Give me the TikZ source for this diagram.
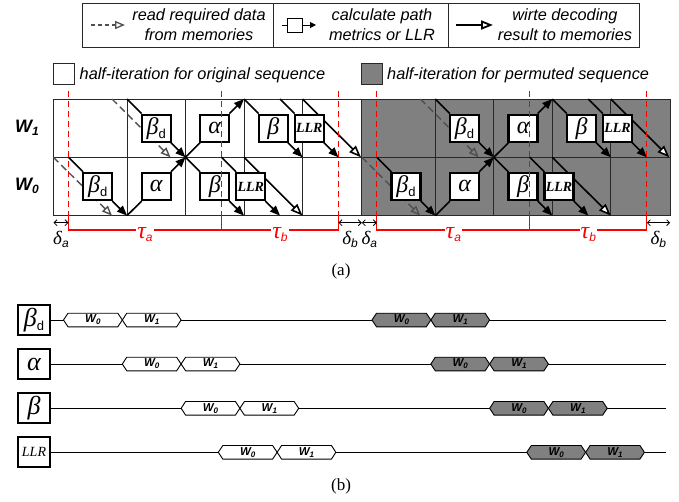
\documentclass[tikz,border=0pt]{standalone}
\usepackage{fontspec}
\setmainfont{Liberation Sans}
\newfontfamily\tnr{Liberation Serif}
\usetikzlibrary{arrows.meta}
\definecolor{hgray}{RGB}{128,128,128}
\definecolor{rdgray}{RGB}{80,80,80}
\definecolor{gline}{RGB}{40,40,40}
\pgfdeclarelayer{bg}
\pgfdeclarelayer{fg}
\pgfsetlayers{bg,main,fg}
\newcommand{\mybd}[1]{{\fontsize{#1}{#1}\selectfont\tnr\itshape β}\raisebox{-4pt}{\fontsize{13}{13}\selectfont d}}
\newcommand{\myal}[1]{{\fontsize{#1}{#1}\selectfont\tnr\itshape α}}
\newcommand{\mybe}[1]{{\fontsize{#1}{#1}\selectfont\tnr\itshape β}}
\newcommand{\myllr}{{\fontsize{14}{14}\selectfont\tnr\bfseries\itshape LLR}}
\newcommand{\myllrb}{{\fontsize{14}{14}\selectfont\tnr\itshape LLR}}
\newcommand{\myW}[1]{{\fontsize{18}{18}\selectfont\bfseries\itshape W\raisebox{-3pt}{\fontsize{12}{12}\selectfont #1}}}
\newcommand{\mywl}[1]{{\fontsize{11.5}{11.5}\selectfont\bfseries\itshape W\raisebox{-2pt}{\fontsize{8}{8}\selectfont #1}}}
\newcommand{\mydl}[1]{{\fontsize{19}{19}\selectfont\tnr\itshape δ}\raisebox{-3pt}{\fontsize{12}{12}\selectfont\itshape #1}}
\newcommand{\mytau}[1]{{\fontsize{24}{24}\selectfont\tnr\itshape τ}\raisebox{-3pt}{\fontsize{12}{12}\selectfont\itshape #1}}
\newcommand{\myhex}[5]{%
  \draw[hexline,fill=#3] (#1,#2) -- ++(4.5,6.8) -- ++(49.8,0) -- ++(4.5,-6.8) -- ++(-4.5,-6.8) -- ++(-49.8,0) -- cycle;
  \node[inner sep=0pt] (#5) at ({#1+29.4},#2) {\mywl{#4}};}
\tikzset{
  gridline/.style={draw=gline, line width=0.9pt},
  cline/.style={line width=1.6pt},
  calc/.style={line width=1.6pt, -{Triangle[length=10pt,width=8pt]}},
  wrt/.style={line width=1.6pt, -{Triangle[length=12pt,width=9pt,fill=white]}},
  rd/.style={draw=rdgray, line width=1.4pt, dash pattern=on 7pt off 4pt, -{Triangle[open,length=10pt,width=8pt]}},
  pbox/.style={draw, line width=2.2pt, fill=white, minimum width=29pt, minimum height=27pt, inner sep=0pt},
  pboxb/.style={draw, line width=2.2pt, fill=white, minimum width=32pt, minimum height=30pt, inner sep=0pt},
  reddash/.style={draw=red, line width=1.1pt, dash pattern=on 6pt off 4pt},
  redln/.style={draw=red, line width=1.1pt},
  dbl/.style={line width=0.8pt, {Straight Barb[length=3pt,width=6pt]}-{Straight Barb[length=3pt,width=6pt]}},
  hexline/.style={draw, line width=0.9pt},
  tline/.style={line width=0.9pt},
  txt/.style={font=\fontsize{16.3}{20}\selectfont\itshape, inner sep=0pt},
  legcell/.style={draw=gline, line width=1pt, minimum height=43.4pt, anchor=north west, inner sep=0pt},
}
\begin{document}
\begin{tikzpicture}[x=1pt,y=-1pt]
\useasboundingbox (0,0) rectangle (679,501);

% ---------- legend ----------
\node[legcell, minimum width=191pt] (leg1) at (82,3.3) {};
\node[legcell, minimum width=175pt] (leg2) at (273,3.3) {};
\node[legcell, minimum width=191pt] (leg3) at (448,3.3) {};
\coordinate (lr1) at (91,25); \coordinate (lr2) at (125,25);
\draw[rd, dash pattern=on 4pt off 3pt, line width=1.3pt] (lr1) -- (lr2);
\node[draw, line width=1pt, minimum width=15pt, minimum height=14pt, inner sep=0pt] (licon) at (295,25) {};
\coordinate (lc1) at (282,25); \coordinate (lc2) at (316,25);
\draw[line width=1pt] (lc1) -- (licon);
\draw[line width=1pt, -{Triangle[length=6pt,width=6pt]}] (licon) -- (lc2);
\coordinate (lw1) at (456,25); \coordinate (lw2) at (493,25);
\draw[wrt, line width=1.8pt] (lw1) -- (lw2);
\node[txt, anchor=base] (t1a) at (199,20.7) {read required data};
\node[txt, anchor=base] (t1b) at (199,40.7) {from memories};
\node[txt, anchor=base] (t2a) at (382,20.7) {calculate path};
\node[txt, anchor=base] (t2b) at (382,40.7) {metrics or LLR};
\node[txt, anchor=base] (t3a) at (565,20.7) {wirte decoding};
\node[txt, anchor=base] (t3b) at (565,40.7) {result to memories};

\node[draw=gline, line width=1pt, fill=white, minimum width=21pt, minimum height=21pt, inner sep=0pt, anchor=north west] (sqw) at (53,63) {};
\node[txt, anchor=base west] (tw) at (79.5,79.3) {half-iteration for original sequence};
\node[draw=gline, line width=1pt, fill=hgray, minimum width=21pt, minimum height=21pt, inner sep=0pt, anchor=north west] (sqg) at (361,63) {};
\node[txt, anchor=base west] (tg) at (387,79.3) {half-iteration for permuted sequence};

% ---------- (a) ----------
\node (W1) at (27,128) {\myW{1}};
\node (W0) at (27,186) {\myW{0}};

\foreach \o/\s/\c in {0/a/white,308.3/b/hgray}{
\begin{scope}[xshift=\o pt]
 \begin{pgfonlayer}{bg}
  \fill[\c] (53.5,99) rectangle (361.8,215.6);
  \draw[gridline] (53.5,99) rectangle (361.8,215.6);
  \draw[gridline] (53.5,157.3) -- (361.8,157.3);
  \foreach \x in {127,185.5,244,302.5} \draw[gridline] (\x,99) -- (\x,215.6);
 \end{pgfonlayer}
 \coordinate (r0s\s) at (53.5,157.3); \coordinate (r0e\s) at (112,215.6);
 \coordinate (r1s\s) at (112,99);     \coordinate (r1e\s) at (170.5,157.3);
 \coordinate (p1\s) at (68.5,157.3);
 \coordinate (p2\s) at (127,215.6);
 \coordinate (p3\s) at (127,99);
 \coordinate (p4\s) at (185.5,157.3);
 \coordinate (p5\s) at (244,99);
 \coordinate (p6\s) at (244,215.6);
 \coordinate (p7\s) at (302.5,157.3);
 \coordinate (p8\s) at (221.5,157.3);
 \coordinate (p9\s) at (280,215.6);
 \coordinate (p10\s) at (280,99);
 \coordinate (p11\s) at (338.5,157.3);
 \coordinate (w0s\s) at (244,157.3);  \coordinate (w0e\s) at (302.5,215.6);
 \coordinate (w1s\s) at (302.5,99);   \coordinate (w1e\s) at (361,157.3);
 \begin{pgfonlayer}{bg}
  \draw[rd] (r0s\s) -- (r0e\s);
  \draw[rd] (r1s\s) -- (r1e\s);
  \draw[wrt] (w0s\s) -- (w0e\s);
  \draw[wrt] (w1s\s) -- (w1e\s);
 \end{pgfonlayer}
 \node[pbox] (bd0\s) at (97.75,186.45) {\mybd{24}};
 \node[pbox] (bd1\s) at (156.25,128.15) {\mybd{24}};
 \node[pbox] (al0\s) at (156.25,186.45) {\myal{24}};
 \node[pbox] (al1\s) at (214.75,128.15) {\myal{24}};
 \node[pbox] (be0\s) at (214.75,186.45) {\mybe{24}};
 \node[pbox] (be1\s) at (273.25,128.15) {\mybe{24}};
 \node[pbox] (ll0\s) at (250.75,186.45) {\myllr};
 \node[pbox] (ll1\s) at (309.25,128.15) {\myllr};
 \draw[cline] (p1\s) -- (bd0\s);  \draw[calc] (bd0\s) -- (p2\s);
 \draw[cline] (p3\s) -- (bd1\s);  \draw[calc] (bd1\s) -- (p4\s);
 \draw[cline] (p2\s) -- (al0\s);  \draw[calc] (al0\s) -- (p4\s);
 \draw[cline] (p4\s) -- (al1\s);  \draw[calc] (al1\s) -- (p5\s);
 \draw[cline] (p4\s) -- (be0\s);  \draw[calc] (be0\s) -- (p6\s);
 \draw[cline] (p5\s) -- (be1\s);  \draw[calc] (be1\s) -- (p7\s);
 \draw[cline] (p8\s) -- (ll0\s);  \draw[calc] (ll0\s) -- (p9\s);
 \draw[cline] (p10\s) -- (ll1\s); \draw[calc] (ll1\s) -- (p11\s);
 \begin{pgfonlayer}{fg}
  \draw[reddash] (68.5,91) -- (68.5,216);
  \draw[reddash] (221.5,91) -- (221.5,216);
  \draw[reddash] (338.5,91) -- (338.5,216);
  \draw[redln] (68.5,216) -- (68.5,230) -- (338.5,230) -- (338.5,216);
  \draw[redln] (221.5,216) -- (221.5,230);
  \node[fill=white, text=red, inner sep=1pt] (ta\s) at (145,235) {\mytau{a}};
  \node[fill=white, text=red, inner sep=1pt] (tb\s) at (280,235) {\mytau{b}};
  \coordinate (d1\s) at (53.5,222.7);  \coordinate (d2\s) at (68.5,222.7);
  \coordinate (d3\s) at (338.5,222.7); \coordinate (d4\s) at (361.8,222.7);
  \draw[dbl] (d1\s) -- (d2\s);
  \draw[dbl] (d3\s) -- (d4\s);
  \node[inner sep=0pt] (dla\s) at (61,239) {\mydl{a}};
  \node[inner sep=0pt] (dlb\s) at (350,239) {\mydl{b}};
 \end{pgfonlayer}
\end{scope}}

\node (capa) at (341,271) {\fontsize{17}{17}\selectfont\tnr (a)};

% ---------- (b) ----------
\node[pboxb] (Bbd) at (34,320) {\mybd{26}};
\node[pboxb] (Bal) at (34,364) {\myal{26}};
\node[pboxb] (Bbe) at (34,408.3) {\mybe{26}};
\node[pboxb] (Bll) at (34,452.3) {\myllrb};
\coordinate (Ebd) at (666,320);
\coordinate (Eal) at (666,364);
\coordinate (Ebe) at (666,408.3);
\coordinate (Ell) at (666,452.3);
\draw[tline] (Bbd) -- (Ebd);
\draw[tline] (Bal) -- (Eal);
\draw[tline] (Bbe) -- (Ebe);
\draw[tline] (Bll) -- (Ell);

\myhex{63.5}{320}{white}{0}{hbd0a}
\myhex{122.3}{320}{white}{1}{hbd1a}
\myhex{372}{320}{hgray}{0}{hbd0b}
\myhex{430.8}{320}{hgray}{1}{hbd1b}

\myhex{122.3}{364}{white}{0}{hal0a}
\myhex{181.1}{364}{white}{1}{hal1a}
\myhex{430.8}{364}{hgray}{0}{hal0b}
\myhex{489.6}{364}{hgray}{1}{hal1b}

\myhex{181.1}{408.3}{white}{0}{hbe0a}
\myhex{239.9}{408.3}{white}{1}{hbe1a}
\myhex{489.6}{408.3}{hgray}{0}{hbe0b}
\myhex{548.4}{408.3}{hgray}{1}{hbe1b}

\myhex{218.3}{452.3}{white}{0}{hll0a}
\myhex{277.1}{452.3}{white}{1}{hll1a}
\myhex{526.8}{452.3}{hgray}{0}{hll0b}
\myhex{585.6}{452.3}{hgray}{1}{hll1b}

\node (capb) at (341,486) {\fontsize{17}{17}\selectfont\tnr (b)};
\end{tikzpicture}
\end{document}
